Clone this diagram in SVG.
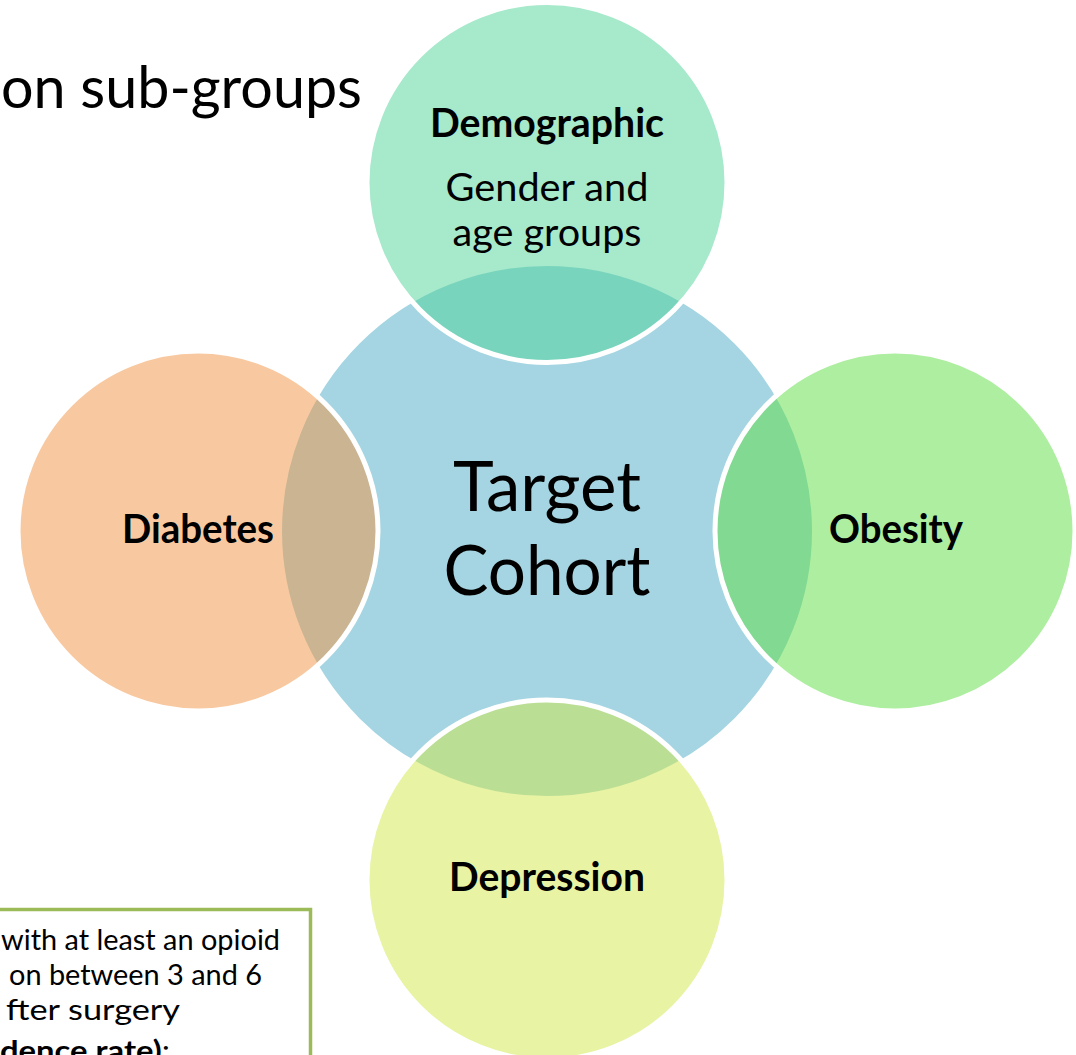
<svg xmlns="http://www.w3.org/2000/svg" width="1076" height="1055" viewBox="0 0 1076 1055">
<style>
text{font-family:Lato,"Liberation Sans",sans-serif;fill:#000}
.lbl{font-size:40px;font-weight:bold;text-anchor:middle}
.sub{font-size:38px;text-anchor:middle}
.big{font-size:70px;text-anchor:middle}
.outer{stroke:#fff;stroke-width:5;fill-opacity:0.5}
.note{font-size:28.5px}
</style>
<rect width="1076" height="1055" fill="#fff"/>
<text x="1" y="108" style="font-size:58px" textLength="361" lengthAdjust="spacingAndGlyphs">on sub-groups</text>
<g id="note">
<rect x="-10" y="909.5" width="320.5" height="200" fill="#fff" stroke="#9BBB59" stroke-width="3.5"/>
<text class="note" x="1" y="950" textLength="279" lengthAdjust="spacingAndGlyphs">with at least an opioid</text>
<text class="note" x="9" y="985" textLength="253" lengthAdjust="spacingAndGlyphs">on between 3 and 6</text>
<text class="note" x="6" y="1020" textLength="174" lengthAdjust="spacingAndGlyphs">fter surgery</text>
<text class="note" x="0" y="1061" textLength="170" lengthAdjust="spacingAndGlyphs"><tspan font-weight="bold">dence rate)</tspan>:</text>
</g>
<g id="target-cohort">
<circle cx="547" cy="531" r="267.5" fill="#A5D5E2" stroke="#fff" stroke-width="5"/>
</g>
<g id="demographic">
<circle class="outer" cx="547" cy="182.5" r="180" fill="rgb(77,211,151)"/>
</g>
<g id="diabetes">
<circle class="outer" cx="198" cy="531" r="180" fill="rgb(241,147,65)"/>
</g>
<g id="obesity">
<circle class="outer" cx="895" cy="531" r="180" fill="rgb(93,221,65)"/>
</g>
<g id="depression">
<circle class="outer" cx="547" cy="880" r="180" fill="rgb(209,231,71)"/>
</g>
<g id="labels">
<text class="big" x="547" y="511" textLength="188" lengthAdjust="spacingAndGlyphs">Target</text>
<text class="big" x="547" y="595" textLength="207" lengthAdjust="spacingAndGlyphs">Cohort</text>
<text class="lbl" x="547" y="137" textLength="234" lengthAdjust="spacingAndGlyphs">Demographic</text>
<text class="sub" x="547" y="201" textLength="203" lengthAdjust="spacingAndGlyphs">Gender and</text>
<text class="sub" x="547" y="246" textLength="189" lengthAdjust="spacingAndGlyphs">age groups</text>
<text class="lbl" x="198" y="543" textLength="152" lengthAdjust="spacingAndGlyphs">Diabetes</text>
<text class="lbl" x="896" y="543" textLength="134" lengthAdjust="spacingAndGlyphs">Obesity</text>
<text class="lbl" x="547" y="891" textLength="196" lengthAdjust="spacingAndGlyphs">Depression</text>
</g>
</svg>
